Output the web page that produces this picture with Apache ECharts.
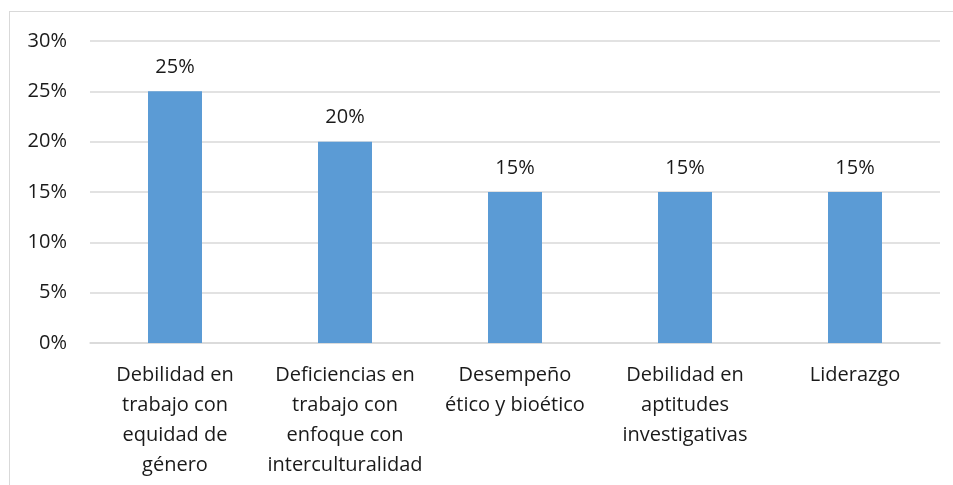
<!DOCTYPE html>
<html>
<head>
<meta charset="utf-8">
<script src="https://cdn.jsdelivr.net/npm/echarts@6/dist/echarts.min.js"></script>
<style>
  html, body { margin: 0; padding: 0; background: #fff; }
  #frame { position: absolute; left: 9px; top: 11px; width: 1000px; height: 500px; border-left: 1px solid #d9d9d9; border-top: 1px solid #d9d9d9; }
  #main { position: absolute; left: 0; top: 0; width: 953px; height: 485px; }
</style>
</head>
<body>
<div id="frame"></div>
<div id="main"></div>
<script>
// categorías (saltos de línea como en el original)
var categories = [
  'Debilidad en\ntrabajo con\nequidad de\ngénero',
  'Deficiencias en\ntrabajo con\nenfoque con\ninterculturalidad',
  'Desempeño\nético y bioético',
  'Debilidad en\naptitudes\ninvestigativas',
  'Liderazgo'
]
var values = [25, 20, 15, 15, 15]
var yTicks = [0, 5, 10, 15, 20, 25, 30]

var font = '"Open Sans", sans-serif'
var chart = echarts.init(document.getElementById('main'))
chart.setOption({
  animation: false,
  grid: { left: 90, right: 13, top: 41, bottom: 142 },
  xAxis: {
    type: 'category',
    data: categories,
    axisLine: { lineStyle: { color: '#d9d9d9', width: 1.5 } },
    axisTick: { show: false },
    axisLabel: {
      interval: 0,
      margin: 17,
      color: '#1a1a1a',
      fontFamily: font,
      fontSize: 20,
      lineHeight: 30
    }
  },
  yAxis: {
    type: 'value',
    min: yTicks[0],
    max: yTicks[yTicks.length - 1],
    interval: 5,
    axisLine: { show: false },
    axisTick: { show: false },
    splitLine: { lineStyle: { color: '#d9d9d9', width: 1.5 } },
    axisLabel: {
      margin: 23,
      color: '#1a1a1a',
      fontFamily: font,
      fontSize: 20,
      formatter: '{value}%'
    }
  },
  series: [{
    type: 'bar',
    data: values,
    barWidth: 54,
    itemStyle: { color: '#5b9bd5' },
    label: {
      show: true,
      position: 'top',
      distance: 14,
      color: '#1a1a1a',
      fontFamily: font,
      fontSize: 20,
      formatter: '{c}%'
    }
  }]
})
</script>
</body>
</html>
